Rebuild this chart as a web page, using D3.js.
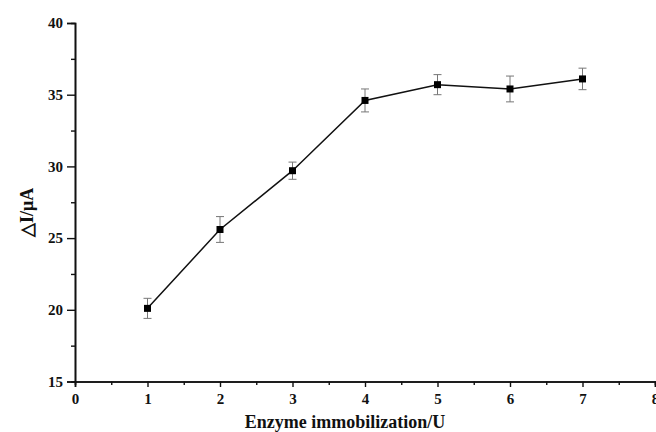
<!DOCTYPE html>
<html>
<head>
<meta charset="utf-8">
<script src="https://cdn.jsdelivr.net/npm/d3@7"></script>
<style>
  html, body { margin: 0; padding: 0; background: #fff; }
  svg { display: block; }
  text { font-family: "Liberation Serif", "Times New Roman", serif; font-weight: bold; fill: #111; }
</style>
</head>
<body>
<svg id="chart" width="656" height="432"></svg>
<script>
// Response current vs. amount of immobilized enzyme
const enzymeUnits = [1, 2, 3, 4, 5, 6, 7];
const deltaI = [20.1, 25.6, 29.7, 34.6, 35.7, 35.4, 36.1];
const errors = [0.7, 0.9, 0.6, 0.8, 0.7, 0.9, 0.75];
const xTicks = [0, 1, 2, 3, 4, 5, 6, 7, 8];
const yTicks = [15, 20, 25, 30, 35, 40];

const svg = d3.select("#chart");
const x = d3.scaleLinear().domain([0, 8]).range([75, 655]);
const y = d3.scaleLinear().domain([15, 40]).range([381.5, 23]);

// Axes (major + minor ticks)
const xAxis = svg.append("g").attr("transform", `translate(0,${y(15)})`);
xAxis.call(d3.axisBottom(x).tickValues(d3.range(0.5, 8, 1)).tickSize(3.5).tickFormat(""));
xAxis.call(g => g.append("g").call(d3.axisBottom(x).tickValues(xTicks).tickSize(5.5).tickPadding(6).tickFormat(d3.format("d"))));
const yAxis = svg.append("g").attr("transform", `translate(${x(0)},0)`);
yAxis.call(d3.axisLeft(y).tickValues(d3.range(17.5, 40, 5)).tickSize(4).tickFormat(""));
yAxis.call(g => g.append("g").call(d3.axisLeft(y).tickValues(yTicks).tickSize(8).tickPadding(4).tickFormat(d3.format("d"))));

svg.selectAll(".domain").attr("stroke", "#111").attr("stroke-width", 1.6);
svg.selectAll(".tick line").attr("stroke", "#111").attr("stroke-width", 1.4);
svg.selectAll(".tick text").attr("font-size", 15).attr("font-family", "Liberation Serif").attr("font-weight", "bold").attr("fill", "#111");

// Error bars
const eb = svg.append("g").attr("stroke", "#777").attr("stroke-width", 1);
enzymeUnits.forEach((u, i) => {
  const cx = x(u), top = y(deltaI[i] + errors[i]), bot = y(deltaI[i] - errors[i]);
  eb.append("line").attr("x1", cx).attr("x2", cx).attr("y1", top).attr("y2", bot);
  eb.append("line").attr("x1", cx - 4).attr("x2", cx + 4).attr("y1", top).attr("y2", top);
  eb.append("line").attr("x1", cx - 4).attr("x2", cx + 4).attr("y1", bot).attr("y2", bot);
});

// Connecting line
const pts = enzymeUnits.map((u, i) => [u, deltaI[i]]);
svg.append("path").datum(pts)
  .attr("fill", "none").attr("stroke", "#111").attr("stroke-width", 1.5)
  .attr("d", d3.line().x(d => x(d[0])).y(d => y(d[1])));

// Square markers
svg.append("g").selectAll("rect").data(pts).join("rect")
  .attr("x", d => x(d[0]) - 3.5).attr("y", d => y(d[1]) - 3.5)
  .attr("width", 7).attr("height", 7).attr("fill", "#000");

// Axis titles
svg.append("text").attr("x", 345).attr("y", 428).attr("text-anchor", "middle")
  .attr("font-size", 18).text("Enzyme immobilization/U");
svg.append("text").attr("transform", `translate(33,${y(26.8)}) rotate(-90)`)
  .attr("text-anchor", "middle").attr("font-size", 18).text("△I/μA");
</script>
</body>
</html>
